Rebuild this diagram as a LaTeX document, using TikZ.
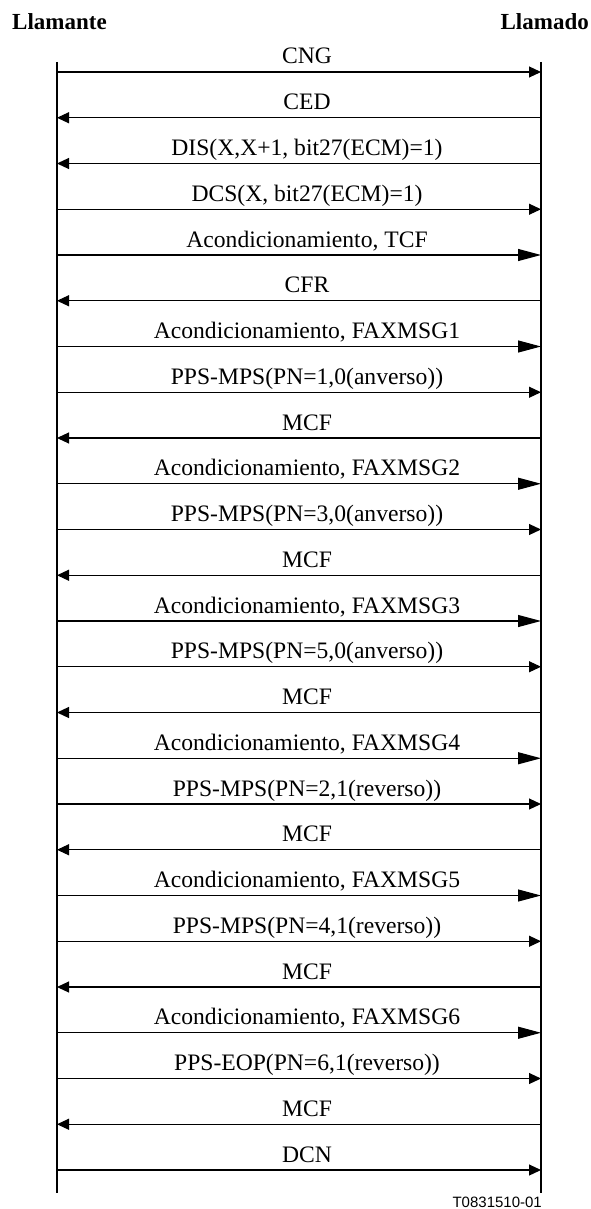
\documentclass[tikz,border=0pt]{standalone}
\usepackage{fontspec}
\setmainfont{Liberation Serif}
\newfontfamily\arialf{Liberation Sans}
\usetikzlibrary{arrows.meta}
\begin{document}
\begin{tikzpicture}[x=1pt,y=-1pt,
  msg/.style={line width=1.1pt,-{Triangle[length=12pt,width=11pt]}},
  bigmsg/.style={line width=1.1pt,-{Triangle[length=23pt,width=12pt]}},
  lbl/.style={font=\fontsize{23.6}{27}\selectfont, anchor=base, inner sep=0pt},
  hdr/.style={font=\fontsize{23}{27}\selectfont\bfseries, inner sep=0pt},
  life/.style={line width=1.1pt}]
\useasboundingbox (0,0) rectangle (590,1209);
\node[hdr, anchor=base west] (A) at (12,30) {Llamante};
\node[hdr, anchor=base east] (B) at (589,30) {Llamado};
\coordinate (Lt) at (57,62);
\coordinate (Lb) at (57,1193);
\coordinate (Rt) at (541,62);
\coordinate (Rb) at (541,1193);
\draw[life] (Lt) -- (Lb);
\draw[life] (Rt) -- (Rb);
\foreach \i in {0,...,24} {
  \coordinate (l\i) at (57,72+45.75*\i);
  \coordinate (r\i) at (541,72+45.75*\i);
}
\newcommand\msgR[3]{\draw[#3] (l#1) -- (r#1); \node[lbl] (t#1) at ([xshift=250pt,yshift=8pt]l#1) {#2};}
\newcommand\msgL[3]{\draw[#3] (r#1) -- (l#1); \node[lbl] (t#1) at ([xshift=250pt,yshift=8pt]l#1) {#2};}
\msgR{0}{CNG}{msg}
\msgL{1}{CED}{msg}
\msgL{2}{DIS(X,X+1, bit27(ECM)=1)}{msg}
\msgR{3}{DCS(X, bit27(ECM)=1)}{msg}
\msgR{4}{Acondicionamiento, TCF}{bigmsg}
\msgL{5}{CFR}{msg}
\msgR{6}{Acondicionamiento, FAXMSG1}{bigmsg}
\msgR{7}{PPS-MPS(PN=1,0(anverso))}{msg}
\msgL{8}{MCF}{msg}
\msgR{9}{Acondicionamiento, FAXMSG2}{bigmsg}
\msgR{10}{PPS-MPS(PN=3,0(anverso))}{msg}
\msgL{11}{MCF}{msg}
\msgR{12}{Acondicionamiento, FAXMSG3}{bigmsg}
\msgR{13}{PPS-MPS(PN=5,0(anverso))}{msg}
\msgL{14}{MCF}{msg}
\msgR{15}{Acondicionamiento, FAXMSG4}{bigmsg}
\msgR{16}{PPS-MPS(PN=2,1(reverso))}{msg}
\msgL{17}{MCF}{msg}
\msgR{18}{Acondicionamiento, FAXMSG5}{bigmsg}
\msgR{19}{PPS-MPS(PN=4,1(reverso))}{msg}
\msgL{20}{MCF}{msg}
\msgR{21}{Acondicionamiento, FAXMSG6}{bigmsg}
\msgR{22}{PPS-EOP(PN=6,1(reverso))}{msg}
\msgL{23}{MCF}{msg}
\msgR{24}{DCN}{msg}
\node[font=\arialf\fontsize{15}{18}\selectfont, anchor=base east, inner sep=0pt] (fig) at (542,1207) {T0831510-01};
\end{tikzpicture}
\end{document}
